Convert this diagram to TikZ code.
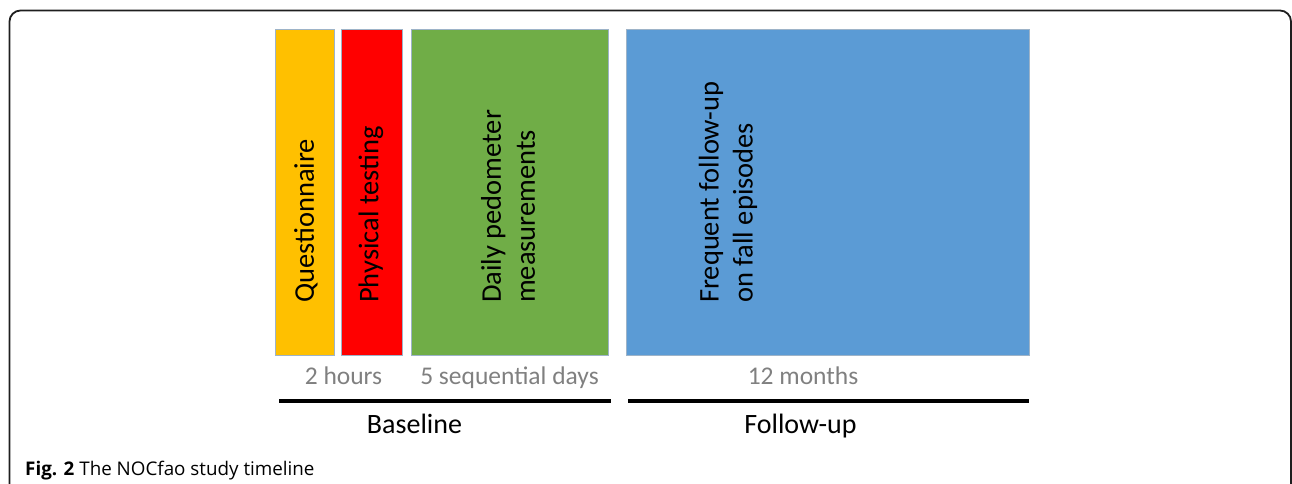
\documentclass[tikz,border=0pt]{standalone}
\usepackage{fontspec}
\setmainfont{Carlito}
\newfontfamily\capfont{Open Sans}
\definecolor{cyellow}{HTML}{FFC000}
\definecolor{cred}{HTML}{FF0000}
\definecolor{cgreen}{HTML}{70AD47}
\definecolor{cblue}{HTML}{5B9BD5}
\definecolor{cedge}{HTML}{9DB3C8}
\definecolor{cdur}{HTML}{808080}
\definecolor{cframe}{HTML}{1E1E1E}
\tikzset{
  phase/.style={draw=cedge, line width=0.8pt, anchor=north west, minimum height=326pt, inner sep=0pt, outer sep=0pt},
  vlabel/.style={rotate=90, anchor=west, inner sep=0pt, align=left, font=\fontsize{28.5}{34}\selectfont},
  dur/.style={anchor=base, inner sep=0pt, text=cdur, font=\fontsize{25.5}{30}\selectfont},
  period/.style={anchor=base, inner sep=0pt, font=\fontsize{28}{34}\selectfont},
  bar/.style={line width=3.6pt, black},
}
\begin{document}
\begin{tikzpicture}[x=1pt, y=-1pt]
\useasboundingbox (0,0) rectangle (1292,484);
\begin{scope}
\clip (0,0) rectangle (1292,484);
\draw[cframe, line width=1.8pt, rounded corners=11pt] (9.5,10.5) rectangle (1291,520);
\end{scope}
% phase boxes
\node[phase, fill=cyellow, minimum width=59pt] (q) at (275.5,29) {};
\node[phase, fill=cred, minimum width=61pt] (p) at (341.5,29) {};
\node[phase, fill=cgreen, minimum width=196.5pt] (d) at (411.5,29) {};
\node[phase, fill=cblue, minimum width=402.5pt] (f) at (626.5,29) {};
% box texts
\node[vlabel] (qt) at (306,303) {Questionnaire};
\node[vlabel] (pt) at (371,303) {Physical testing};
\node[vlabel] (dt) at (508,303) {Daily pedometer\\measurements};
\node[vlabel] (ft) at (728,303) {Frequent follow-up\\on fall episodes};
% durations
\node[dur] (h2) at (343.5,384) {2 hours};
\node[dur] (d5) at (509.5,384) {5 sequential days};
\node[dur] (m12) at (803,384) {12 months};
% timeline bars
\coordinate (b1) at (279,401);
\coordinate (b2) at (611,401);
\coordinate (f1) at (628,401);
\coordinate (f2) at (1029,401);
\draw[bar] (b1) -- (b2);
\draw[bar] (f1) -- (f2);
\node[period] (bl) at (414.5,433) {Baseline};
\node[period] (fu) at (800.5,433) {Follow-up};
% caption
\node[anchor=base west, inner sep=0pt, font=\capfont\fontsize{18.8}{22}\selectfont] (cap) at (25,475) {\textbf{Fig. 2} The NOCfao study timeline};
\end{tikzpicture}
\end{document}
